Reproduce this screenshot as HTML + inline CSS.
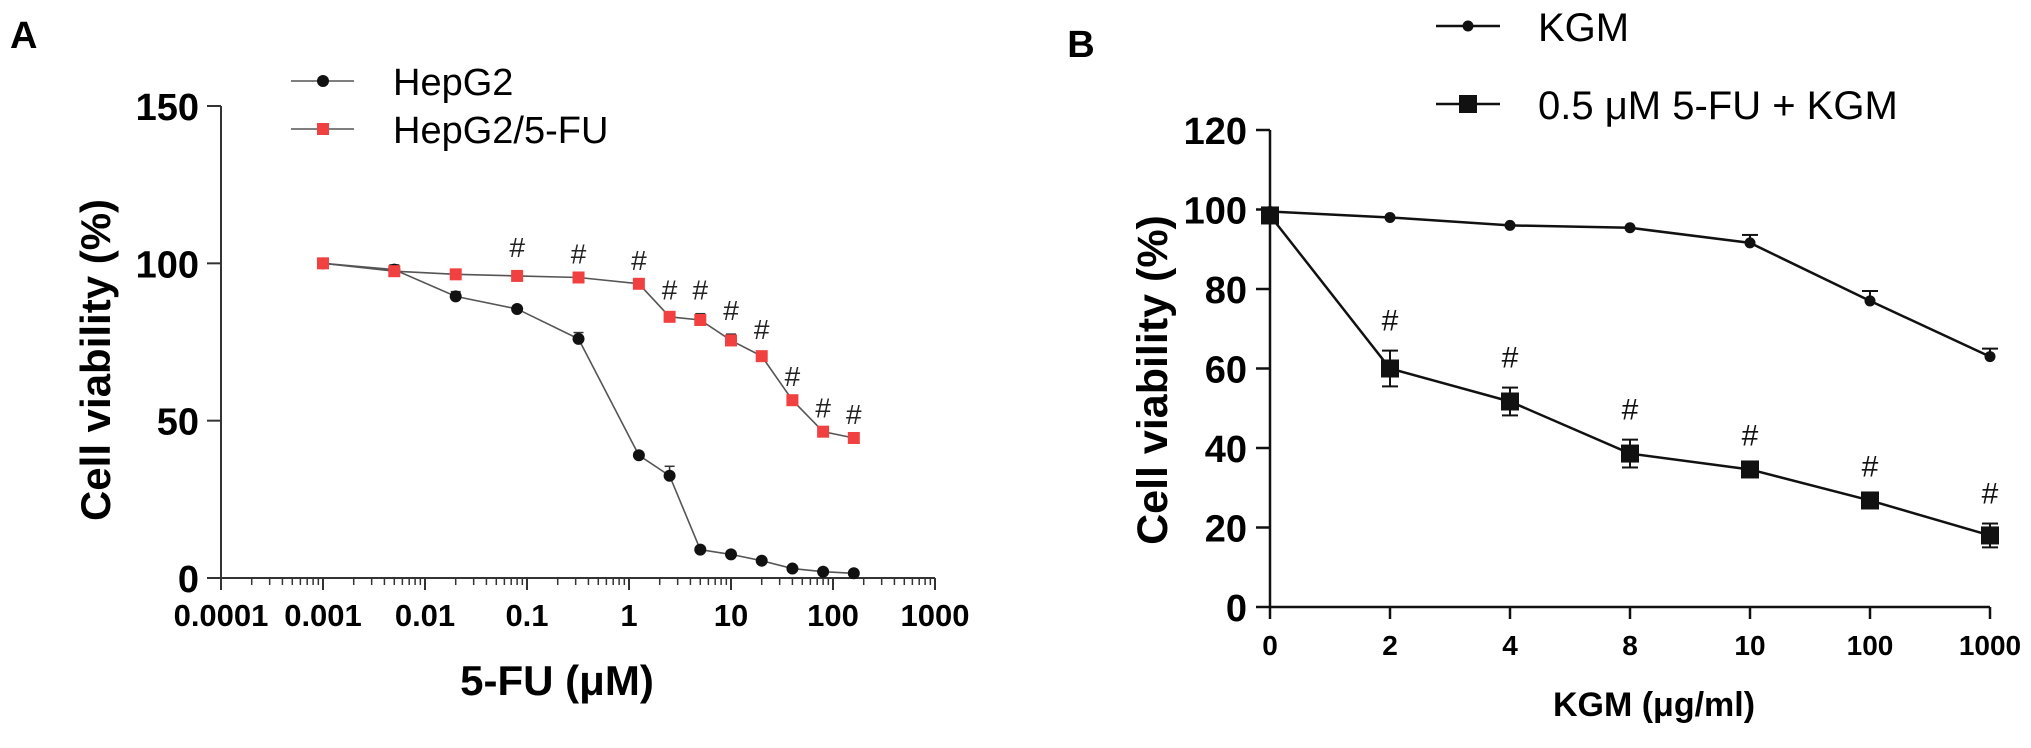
<!DOCTYPE html>
<html><head><meta charset="utf-8"><style>
html,body{margin:0;padding:0;background:#fff;}
svg{display:block;font-family:"Liberation Sans",Arial,sans-serif;}
</style></head><body>
<svg id="fig" width="2031" height="748" viewBox="0 0 2031 748" xmlns="http://www.w3.org/2000/svg">
<g id="pA"></g>
<g id="pB"></g>
</svg>
<script>
// Panel A data
const aDoses = [0.001,0.005,0.02,0.08,0.32,1.25,2.5,5,10,20,40,80,160];
const aHepG2 = [100,98,89.5,85.5,76,39,32.5,9,7.5,5.5,3,2,1.5];
const aHepG2Err = [0,1.5,1.5,0,2,0,3,0,0,0,0,0,0];
const aResist = [100,97.5,96.5,96,95.5,93.5,83,82,75.5,70.5,56.5,46.5,44.5];
const aResistErr = [0,1,1,1.5,0,0,1,2,2,1,0,0,0];
const aSig = [0,0,0,1,1,1,1,1,1,1,1,1,1];
const aXTicks = ["0.0001","0.001","0.01","0.1","1","10","100","1000"];
const aYTicks = [0,50,100,150];
// Panel B data
const bCats = ["0","2","4","8","10","100","1000"];
const bKGM = [99.5,98,96,95.4,91.6,77,63];
const bKGMErr = [0,0,0,0,2,2.5,2];
const bCombo = [98.5,60,51.7,38.6,34.6,26.8,18];
const bComboErr = [1,4.5,3.5,3.5,1,1,3];
const bSig = [0,1,1,1,1,1,1];
const bYTicks = [0,20,40,60,80,100,120];

const NS="http://www.w3.org/2000/svg";
function mk(parent,tag,attrs,text){const e=document.createElementNS(NS,tag);for(const k in attrs)e.setAttribute(k,attrs[k]);if(text!==undefined)e.textContent=text;parent.appendChild(e);return e;}

// ---------- Panel A ----------
const A=document.getElementById('pA');
const ax0=221, axDec=102, ay0=578, ayScale=(578-106)/150;
const axX=v=>ax0+(Math.log10(v)+4)*axDec;
const ayY=v=>ay0-v*ayScale;
let t;
t=mk(A,'text',{x:10,y:48,'font-size':38,'font-weight':'bold'},'A');


let ln=mk(A,'line',{x1:ax0,y1:ayY(150),x2:ax0,y2:ay0,stroke:'#333','stroke-width':2});


ln=mk(A,'line',{x1:ax0,y1:ay0,x2:axX(1000),y2:ay0,stroke:'#333','stroke-width':2});


aYTicks.forEach(v=>{
  mk(A,'line',{x1:ax0-14,y1:ayY(v),x2:ax0,y2:ayY(v),stroke:'#333','stroke-width':2});
  const tt=mk(A,'text',{x:ax0-22,y:ayY(v)+14,'font-size':38,'font-weight':'bold','text-anchor':'end'},String(v));
  
  
});
aXTicks.forEach((lab,i)=>{
  const v=Number(lab), x=axX(v);
  mk(A,'line',{x1:x,y1:ay0,x2:x,y2:ay0+12,stroke:'#333','stroke-width':2});
  if(i<aXTicks.length-1){for(let m=2;m<=9;m++){const xm=axX(v*m);mk(A,'line',{x1:xm,y1:ay0,x2:xm,y2:ay0+7,stroke:'#333','stroke-width':1.5});}}
  const tt=mk(A,'text',{x:x,y:626,'font-size':31,'font-weight':'bold','text-anchor':'middle'},lab);
  
  
});
t=mk(A,'text',{x:557,y:695,'font-size':42,'font-weight':'bold','text-anchor':'middle'},'5-FU (μM)');


t=mk(A,'text',{x:0,y:0,'font-size':42,'font-weight':'bold','text-anchor':'middle',transform:'translate(110,360) rotate(-90)'},'Cell viability (%)');


function seriesA(vals,errs,color,shape,name){
  const g=mk(A,'g',{});
  
  
  mk(g,'polyline',{points:aDoses.map((d,i)=>axX(d)+','+ayY(vals[i])).join(' '),fill:'none',stroke:'#555','stroke-width':1.6});
  aDoses.forEach((d,i)=>{
    const x=axX(d),y=ayY(vals[i]);
    if(errs[i]>0){mk(g,'line',{x1:x,y1:y,x2:x,y2:ayY(vals[i]+errs[i]),stroke:'#333','stroke-width':1.5});mk(g,'line',{x1:x-5,y1:ayY(vals[i]+errs[i]),x2:x+5,y2:ayY(vals[i]+errs[i]),stroke:'#333','stroke-width':1.5});}
    let m;
    if(shape==='c')m=mk(g,'circle',{cx:x,cy:y,r:6,fill:'#111'});
    else m=mk(g,'rect',{x:x-6,y:y-6,width:12,height:12,fill:color});
    
    
  });
}
seriesA(aHepG2,aHepG2Err,'#333','c','series-hepg2');
seriesA(aResist,aResistErr,'#f04040','s','series-hepg2-5fu');
aDoses.forEach((d,i)=>{ if(aSig[i]){
  const h=mk(A,'text',{x:axX(d),y:ayY(aResist[i]+aResistErr[i])-14,'font-size':28,'text-anchor':'middle',fill:'#222'},'#');
  
  
}});
// legend A
let lg=mk(A,'g',{});


mk(lg,'line',{x1:291,y1:81,x2:354,y2:81,stroke:'#555','stroke-width':1.6});
mk(lg,'circle',{cx:323,cy:81,r:6,fill:'#111'});
mk(lg,'text',{x:393,y:95,'font-size':38},'HepG2');
mk(lg,'line',{x1:291,y1:129,x2:354,y2:129,stroke:'#555','stroke-width':1.6});
mk(lg,'rect',{x:317,y:123,width:12,height:12,fill:'#f04040'});
mk(lg,'text',{x:393,y:143,'font-size':38},'HepG2/5-FU');

// ---------- Panel B ----------
const B=document.getElementById('pB');
const bx0=1270, bStep=120, by0=607, byScale=(607-130)/120;
const bxX=i=>bx0+i*bStep;
const byY=v=>by0-v*byScale;
t=mk(B,'text',{x:1081,y:57,'font-size':38,'font-weight':'bold','text-anchor':'middle'},'B');


ln=mk(B,'line',{x1:bx0,y1:byY(120),x2:bx0,y2:by0,stroke:'#111','stroke-width':2.5});


ln=mk(B,'line',{x1:bx0,y1:by0,x2:bxX(6),y2:by0,stroke:'#111','stroke-width':2.5});


bYTicks.forEach(v=>{
  mk(B,'line',{x1:bx0-14,y1:byY(v),x2:bx0,y2:byY(v),stroke:'#111','stroke-width':2.5});
  const tt=mk(B,'text',{x:1247,y:byY(v)+14,'font-size':38,'font-weight':'bold','text-anchor':'end'},String(v));
  
  
});
bCats.forEach((c,i)=>{
  mk(B,'line',{x1:bxX(i),y1:by0,x2:bxX(i),y2:by0+12,stroke:'#111','stroke-width':2.5});
  const tt=mk(B,'text',{x:bxX(i),y:655,'font-size':28,'font-weight':'bold','text-anchor':'middle'},c);
  
  
});
t=mk(B,'text',{x:1654,y:716,'font-size':34,'font-weight':'bold','text-anchor':'middle'},'KGM (μg/ml)');


t=mk(B,'text',{x:0,y:0,'font-size':43,'font-weight':'bold','text-anchor':'middle',transform:'translate(1167,380) rotate(-90)'},'Cell viability (%)');


function seriesB(vals,errs,shape,name){
  const g=mk(B,'g',{});
  
  
  mk(g,'polyline',{points:vals.map((v,i)=>bxX(i)+','+byY(v)).join(' '),fill:'none',stroke:'#111','stroke-width':2.5});
  vals.forEach((v,i)=>{
    const x=bxX(i),y=byY(v);
    if(errs[i]>0){
      const yt=byY(v+errs[i]), yb=byY(v-errs[i]);
      mk(g,'line',{x1:x,y1:yt,x2:x,y2:shape==='s'?yb:y,stroke:'#111','stroke-width':2});
      mk(g,'line',{x1:x-8,y1:yt,x2:x+8,y2:yt,stroke:'#111','stroke-width':2});
      if(shape==='s')mk(g,'line',{x1:x-8,y1:yb,x2:x+8,y2:yb,stroke:'#111','stroke-width':2});
    }
    let m;
    if(shape==='c')m=mk(g,'circle',{cx:x,cy:y,r:5.5,fill:'#111'});
    else m=mk(g,'rect',{x:x-9,y:y-9,width:18,height:18,fill:'#111'});
    
    
  });
}
seriesB(bKGM,bKGMErr,'c','series-kgm');
seriesB(bCombo,bComboErr,'s','series-5fu-kgm');
bCats.forEach((c,i)=>{ if(bSig[i]){
  const h=mk(B,'text',{x:bxX(i),y:byY(bCombo[i]+bComboErr[i])-20,'font-size':30,'text-anchor':'middle',fill:'#111'},'#');
  
  
}});
lg=mk(B,'g',{});


mk(lg,'line',{x1:1436,y1:26,x2:1500,y2:26,stroke:'#111','stroke-width':2.5});
mk(lg,'circle',{cx:1468,cy:26,r:5.5,fill:'#111'});
mk(lg,'text',{x:1538,y:41,'font-size':40},'KGM');
mk(lg,'line',{x1:1436,y1:104,x2:1500,y2:104,stroke:'#111','stroke-width':2.5});
mk(lg,'rect',{x:1459,y:95,width:18,height:18,fill:'#111'});
mk(lg,'text',{x:1538,y:119,'font-size':40},'0.5 μM 5-FU + KGM');
</script>
</body></html>
